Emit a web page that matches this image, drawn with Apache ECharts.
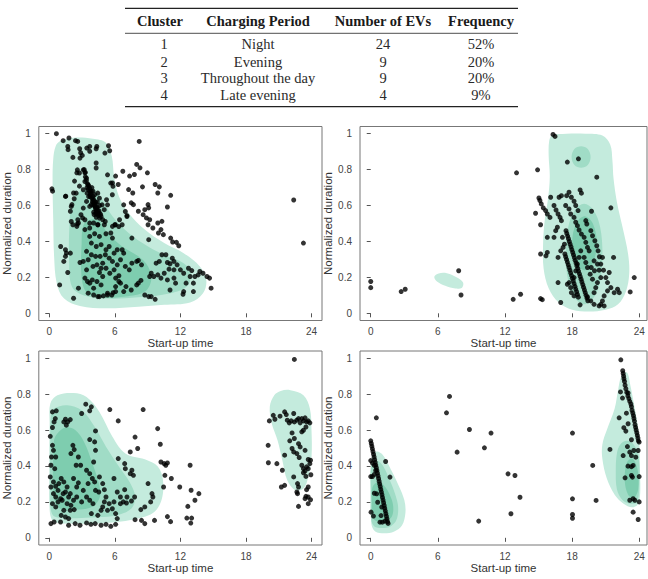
<!DOCTYPE html>
<html><head><meta charset="utf-8">
<script src="https://cdn.jsdelivr.net/npm/echarts@6/dist/echarts.min.js"></script>
<style>html,body{margin:0;padding:0;background:#fff}#c{width:648px;height:579px}</style>
</head><body><div id="c"></div>
<script>
// ---------- table ----------
const tableHeader = ['Cluster', 'Charging Period', 'Number of EVs', 'Frequency'];
const clusterIds = ['1', '2', '3', '4'];
const chargingPeriods = ['Night', 'Evening', 'Throughout the day', 'Late evening'];
const numberOfEVs = ['24', '9', '9', '4'];
const frequencies = ['52%', '20%', '20%', '9%'];

// ---------- axes ----------
const xTicks = [0, 6, 12, 18, 24];
const yTicks = [0, 0.2, 0.4, 0.6, 0.8, 1];
const xName = 'Start-up time';
const yName = 'Normalized duration';

// ---------- panel 1 (Night) ----------
const p1Points = [
[0.65,1.0],[1.27,0.961],[1.80,0.976],[1.69,0.929],[1.72,0.911],[2.40,0.961],[2.60,0.957],[2.78,0.916],[2.87,0.894],[2.16,0.868],[2.81,0.864],[3.02,0.879],[3.43,0.920],[3.70,0.929],[3.70,0.902],[4.29,0.916],[4.35,0.929],[4.29,0.837],[4.29,0.809],[5.42,0.933],[5.53,0.905],[5.09,0.892],[8.23,0.957],
[2.57,0.799],[2.76,0.781],[3.11,0.799],[3.41,0.753],[3.26,0.734],[3.55,0.716],[3.70,0.697],[3.85,0.679],[3.76,0.660],[4.0,0.651],[4.06,0.632],[4.24,0.619],[4.15,0.600],[4.35,0.586],[4.44,0.571],[4.59,0.558],[4.29,0.552],[4.74,0.539],[4.06,0.563],[3.70,0.595],[3.41,0.623],[3.11,0.586],[3.46,0.669],[3.11,0.688],[4.44,0.669],[4.59,0.641],[4.83,0.604],[5.03,0.577],[5.24,0.632],[5.33,0.771],[5.62,0.725],[5.83,0.707],[5.77,0.660],[5.33,0.604],[2.01,0.595],[2.46,0.669],[2.28,0.638],[1.48,0.651],[0.24,0.693],[0.30,0.680],
[2.01,0.511],[2.16,0.493],[2.57,0.497],[2.90,0.549],[3.26,0.521],[3.70,0.502],[4.44,0.493],[5.12,0.511],[6.04,0.493],[6.36,0.483],[6.96,0.567],[6.81,0.604],[7.11,0.539],
[3.3,0.76],[3.4,0.74],[3.5,0.72],[3.6,0.71],[3.55,0.69],[3.7,0.68],[3.8,0.67],[3.75,0.65],[3.9,0.64],[3.95,0.62],[4.05,0.61],[4.1,0.60],[4.2,0.59],[4.25,0.58],[4.3,0.57],[4.35,0.56],[4.45,0.555],[4.5,0.545],[4.6,0.53],[4.2,0.61],[4.0,0.63],[3.85,0.605],[4.4,0.59],[4.55,0.57],[4.7,0.55],[3.6,0.65],[3.45,0.70],[4.1,0.55],[4.3,0.535],[3.2,0.80],[3.3,0.785],[3.9,0.70],[4.0,0.68],[4.15,0.66],[4.4,0.62],[4.6,0.6],
[6.73,0.791],[7.35,0.764],[7.79,0.773],[8.0,0.829],[8.30,0.810],[7.64,0.670],[8.53,0.704],[8.98,0.782],[9.69,0.717],[10.07,0.704],[9.93,0.670],[7.26,0.689],[7.50,0.615],[7.70,0.605],[8.15,0.568],[8.59,0.549],[8.74,0.577],[9.04,0.605],[9.10,0.587],[8.89,0.531],[9.19,0.521],[9.04,0.493],[9.48,0.475],[9.93,0.503],[10.31,0.512],[10.22,0.466],[10.44,0.438],[10.81,0.592],[11.11,0.657],[6.07,0.764],[6.31,0.717],[5.78,0.726],[6.43,0.521],[6.67,0.493],[5.78,0.484],[6.01,0.493],[7.11,0.544],[7.56,0.419],[9.10,0.410],[9.99,0.447],[11.11,0.419],[11.29,0.397],[11.64,0.395],[11.85,0.376],
[10.31,0.326],[10.67,0.326],[10.07,0.289],[9.78,0.279],[10.81,0.283],[11.05,0.276],[11.26,0.307],[11.41,0.289],[11.70,0.270],[12.0,0.242],[11.41,0.242],[10.96,0.246],[10.52,0.223],[10.22,0.196],[10.81,0.186],[11.41,0.196],[11.56,0.168],[11.05,0.130],[12.30,0.223],[12.74,0.251],[13.04,0.238],[13.33,0.205],[13.63,0.214],[13.78,0.233],[12.89,0.205],[12.52,0.168],[13.19,0.168],[12.30,0.121],[12.24,0.106],[13.19,0.121],[14.43,0.205],[14.67,0.196],[14.81,0.140],[14.07,0.223],[22.37,0.631],[23.26,0.391],
[1.04,0.372],[1.48,0.354],[1.57,0.335],[1.48,0.317],[1.33,0.289],[1.69,0.227],[0.95,0.158],[2.22,0.084],[1.93,0.335],[2.67,0.140],[2.81,0.283],[3.11,0.289],[3.56,0.298],[3.41,0.242],[3.26,0.196],[3.50,0.177],[3.70,0.168],[3.94,0.186],[3.56,0.112],[4.06,0.102],[4.59,0.093],[4.44,0.093],[4.95,0.097],[5.33,0.102],[5.72,0.102],[5.84,0.115],[5.33,0.112],[4.06,0.140],[4.36,0.177],[4.74,0.158],[4.89,0.205],[4.59,0.227],[5.19,0.251],[5.54,0.223],[5.93,0.242],[6.07,0.196],[6.37,0.209],[6.37,0.177],[6.52,0.168],[6.07,0.149],[6.07,0.121],[6.81,0.121],[7.02,0.149],[7.50,0.130],[8.0,0.158],[8.15,0.168],[8.39,0.183],[8.0,0.289],[8.44,0.270],[8.15,0.294],[8.74,0.102],[9.10,0.093],[9.33,0.093],[9.69,0.078],[9.19,0.205],[9.57,0.205],[9.33,0.223],[9.93,0.214],
[3.70,0.428],[4.15,0.443],[4.59,0.428],[5.19,0.443],[5.63,0.447],[5.78,0.419],[3.85,0.391],[4.30,0.372],[4.74,0.382],[5.19,0.354],[5.48,0.372],[5.93,0.335],[6.22,0.354],[6.67,0.354],[6.81,0.335],[3.41,0.345],[3.85,0.326],[4.24,0.317],[4.65,0.317],[5.13,0.326],[5.48,0.307],[5.78,0.289],[6.22,0.270],[6.52,0.298],[6.96,0.261],[7.32,0.242],[7.56,0.279],[4.0,0.261],[4.36,0.270],[4.89,0.279],[4.74,0.251],
[2.67,0.503],[2.61,0.521],[3.05,0.531],[2.52,0.484],[3.70,0.475],[3.26,0.466],[4.06,0.503],[4.44,0.493],[4.89,0.521],[5.04,0.493],[1.93,0.568],[2.07,0.605],[2.22,0.670],[1.51,0.652],[2.52,0.782],[2.31,0.736],[2.76,0.708],[3.26,0.782]
];
const p1Outer = [[1.04,0.96],[2.22,0.978],[4.0,0.972],[5.19,0.95],[5.72,0.875],[5.93,0.763],[6.37,0.652],[7.26,0.559],[8.74,0.466],[10.52,0.391],[12.3,0.335],[13.78,0.261],[14.37,0.186],[14.07,0.112],[12.89,0.06],[10.52,0.047],[8.15,0.037],[5.19,0.028],[2.81,0.041],[1.33,0.084],[0.68,0.168],[0.44,0.317],[0.36,0.521],[0.30,0.726],[0.36,0.857],[0.59,0.931]];
const p1Mid = [[2.81,0.68],[4.0,0.689],[4.74,0.642],[5.78,0.54],[7.26,0.447],[9.04,0.372],[10.81,0.317],[12.3,0.279],[12.95,0.223],[12.59,0.149],[11.11,0.112],[8.15,0.089],[5.19,0.082],[3.11,0.101],[2.07,0.149],[1.81,0.298],[1.87,0.521],[2.10,0.624]];
const p1Inner = [[3.41,0.512],[4.44,0.521],[5.33,0.447],[6.67,0.372],[8.15,0.317],[9.04,0.261],[9.33,0.186],[8.74,0.121],[6.96,0.093],[4.59,0.089],[3.35,0.121],[2.93,0.223],[2.96,0.391],[3.05,0.475]];

// ---------- panel 2 (Evening) ----------
const p2Points = [
[0,0.177],[0,0.143],[2.72,0.121],[3.08,0.134],[7.86,0.237],[8.07,0.102],[12.73,0.078],[13.39,0.106],[13.03,0.782],[14.91,0.799],[14.73,0.557],[15.18,0.493],[15.18,0.330],[15.18,0.082],[15.33,0.076],[16.29,0.996],[16.47,0.985],[17.57,0.842],[18.56,0.860],[20.20,0.758],[21.46,0.587],[21.70,0.311],[23.55,0.199],[23.19,0.119],[16.98,0.060],[15.78,0.339],[15.66,0.320],[16.74,0.171],[15.78,0.423],
[15.03,0.642],[15.12,0.628],[15.24,0.609],[15.42,0.587],[15.63,0.572],[15.78,0.553],[16.02,0.534],[16.08,0.646],[16.38,0.600],[16.56,0.575],[16.74,0.553],[16.92,0.534],[17.04,0.516],[16.83,0.646],[17.04,0.655],[17.51,0.655],[17.72,0.674],[17.93,0.646],[18.17,0.624],[18.32,0.600],[18.53,0.572],[18.71,0.687],[18.83,0.669],[17.42,0.600],[17.72,0.581],[17.87,0.553],[18.17,0.534],[18.32,0.507],[18.47,0.488],[18.62,0.464],[18.83,0.441],[19.07,0.423],[19.22,0.395],[19.37,0.367],[19.52,0.348],[19.73,0.568],[19.22,0.516],[19.31,0.497],[19.67,0.460],[19.82,0.432],[20.03,0.404],[20.20,0.376],[20.32,0.348],[20.44,0.315],[20.71,0.311],[20.56,0.274],[20.80,0.240],[21.01,0.199],[21.16,0.171],[21.31,0.227],[21.46,0.143],[21.76,0.115],[22.06,0.134],[22.21,0.115],[21.16,0.125],[20.86,0.097],[20.71,0.069],[20.56,0.050],[20.41,0.041],[20.86,0.041],[19.96,0.050],[19.67,0.069],[19.37,0.091],[19.96,0.115],[20.11,0.143],[20.26,0.171],[19.82,0.190],[19.61,0.218],[19.37,0.255],[19.22,0.283],[19.07,0.311],[18.77,0.348],[18.62,0.311],[18.47,0.274],[18.32,0.236],[18.17,0.199],[17.57,0.162],[17.72,0.171],[17.87,0.143],[17.93,0.115],[18.17,0.097],[18.71,0.047],[17.19,0.367],[17.31,0.385],[16.98,0.348],[16.74,0.311],[16.38,0.423],[16.53,0.460],[16.68,0.479],[17.13,0.423],[19.96,0.292],[20.26,0.274],[20.41,0.240],[20.56,0.199],[19.99,0.237],[19.70,0.255],
[17.45,0.46],[17.52,0.445],[17.6,0.43],[17.67,0.415],[17.75,0.40],[17.82,0.385],[17.9,0.37],[17.97,0.355],[18.05,0.34],[18.12,0.325],[18.2,0.31],[18.27,0.295],[18.35,0.28],[18.42,0.265],[18.5,0.25],[18.57,0.235],[18.65,0.22],[18.72,0.205],[18.8,0.19],[18.87,0.175],[18.95,0.16],[19.02,0.145],[19.1,0.13],[19.17,0.115],[19.25,0.10],[19.32,0.085],[19.4,0.07],
[17.35,0.33],[17.42,0.315],[17.5,0.30],[17.57,0.285],[17.65,0.27],[17.72,0.255],[17.8,0.24],[17.87,0.225],[17.95,0.21],[18.02,0.195],[18.1,0.18],[18.17,0.165],[18.25,0.15],[18.32,0.135],[18.4,0.12],[18.47,0.105],[18.55,0.09]
];
const p2Outer = [[16.2,0.99],[17.5,1.0],[19.2,1.0],[20.7,0.99],[21.4,0.94],[21.6,0.85],[21.7,0.75],[22.0,0.62],[22.5,0.48],[23.0,0.33],[23.1,0.22],[22.8,0.12],[22.1,0.05],[21.0,0.02],[19.5,0.01],[18.0,0.02],[16.8,0.06],[15.9,0.14],[15.45,0.25],[15.4,0.38],[15.55,0.52],[15.85,0.64],[16.0,0.76],[15.9,0.88],[15.95,0.96]];
const p2Blob = [[5.68,0.203],[6.07,0.222],[6.81,0.223],[7.71,0.199],[8.25,0.171],[8.16,0.143],[7.56,0.138],[6.66,0.153],[5.92,0.177]];
const p2Mid = [[19.07,0.61],[19.9,0.575],[20.5,0.48],[20.71,0.33],[20.5,0.18],[19.9,0.085],[19.07,0.05],[18.25,0.085],[17.65,0.18],[17.43,0.33],[17.65,0.48],[18.25,0.575]];
const p2Top = [[18.8,0.93],[19.4,0.915],[19.65,0.87],[19.4,0.825],[18.8,0.81],[18.2,0.825],[17.95,0.87],[18.2,0.915]];
const p2Inner = [[19.1,0.54],[19.85,0.5],[20.2,0.39],[19.85,0.28],[19.1,0.24],[18.35,0.28],[18.0,0.39],[18.35,0.5]];

// ---------- panel 3 (Throughout the day) ----------
const p3Points = [
[0.09,0.565],[0.29,0.701],[0.64,0.707],[0.44,0.645],[0.29,0.614],[0.55,0.664],[0.29,0.515],[0.38,0.487],[0.20,0.450],[0.59,0.450],[0.15,0.404],[0.50,0.385],[0.09,0.339],[0.38,0.311],[0.15,0.283],[0.59,0.287],[0.80,0.264],[0.38,0.246],[0.59,0.227],[0.29,0.190],[0.59,0.172],[0.80,0.200],[1.04,0.218],[1.27,0.246],[0.87,0.302],[1.09,0.330],[1.33,0.311],[1.63,0.283],[1.48,0.255],[1.77,0.227],[1.63,0.190],[1.98,0.181],[1.92,0.153],[2.28,0.157],[1.33,0.153],[1.09,0.125],[1.48,0.116],[1.77,0.107],[0.15,0.079],[0.44,0.088],[1.03,0.088],[1.77,0.070],[2.37,0.079],[2.81,0.070],[3.41,0.083],[3.81,0.075],[4.20,0.079],[4.74,0.070],[5.19,0.075],[5.63,0.064],[6.07,0.075],
[1.48,0.660],[1.69,0.645],[1.92,0.658],[1.33,0.645],[1.56,0.627],[3.34,0.744],[3.85,0.729],[3.70,0.707],[2.96,0.692],[5.54,0.714],[6.31,0.651],[2.16,0.515],[2.28,0.491],[1.98,0.469],[2.66,0.450],[2.87,0.404],[2.46,0.404],[3.70,0.547],[4.15,0.534],[4.23,0.595],[4.23,0.487],[4.06,0.422],[3.41,0.376],[3.70,0.357],[3.94,0.330],[4.15,0.311],[4.59,0.339],[4.89,0.302],[5.04,0.268],[5.19,0.227],[5.04,0.200],[4.89,0.172],[5.33,0.153],[5.48,0.190],[5.77,0.162],[6.07,0.135],[6.22,0.107],[3.55,0.302],[3.11,0.264],[3.41,0.227],[3.70,0.209],[4.0,0.190],[4.23,0.264],[4.53,0.255],[2.96,0.200],[2.51,0.227],[2.66,0.306],[2.22,0.330],[2.51,0.283],[1.92,0.246],[1.18,0.209],[2.22,0.209],[3.85,0.135],[4.44,0.125],[4.74,0.153],
[5.92,0.330],[6.31,0.441],[6.96,0.385],[6.90,0.413],[7.56,0.376],[7.70,0.348],[7.41,0.357],[7.85,0.561],[7.41,0.478],[8.09,0.497],[8.59,0.714],[5.92,0.200],[6.51,0.190],[6.77,0.200],[7.06,0.194],[6.22,0.255],[6.51,0.227],[6.90,0.268],[7.52,0.205],[7.11,0.227],[7.81,0.227],[8.74,0.172],[8.38,0.157],[9.04,0.302],[9.40,0.246],[9.48,0.227],[9.28,0.200],[9.63,0.097],[7.85,0.101],[8.44,0.097],[8.74,0.079],[9.92,0.608],[10.16,0.521],[10.22,0.422],[10.51,0.413],[10.66,0.404],[10.81,0.417],[10.58,0.348],[10.46,0.283],[11.17,0.330],[11.94,0.283],[10.81,0.118],[11.10,0.090],
[12.89,0.404],[12.98,0.265],[13.33,0.209],[13.69,0.246],[12.68,0.175],[12.59,0.110],[13.03,0.110],[12.95,0.082],
[22.43,0.993],[20.14,0.651],[20.50,0.682],[20.65,0.660],[21.12,0.677],[21.54,0.701],[21.69,0.686],[21.78,0.655],[21.96,0.640],[22.14,0.651],[22.37,0.692],[22.43,0.645],[22.66,0.655],[22.81,0.664],[22.96,0.640],[23.11,0.664],[23.26,0.651],[23.41,0.668],[23.55,0.645],[23.70,0.651],[23.85,0.640],[23.49,0.617],[23.26,0.599],[23.11,0.590],[22.22,0.584],[22.43,0.553],[22.01,0.540],[22.81,0.524],[22.96,0.506],[23.41,0.487],[22.22,0.497],[22.37,0.478],[22.66,0.469],[21.54,0.460],[22.87,0.447],[23.70,0.436],[23.91,0.432],[23.85,0.413],[23.11,0.404],[23.26,0.385],[23.41,0.372],[23.55,0.395],[23.70,0.385],[23.94,0.351],[23.26,0.362],[23.49,0.342],[22.37,0.339],[22.72,0.302],[22.81,0.283],[22.66,0.255],[22.72,0.246],[23.70,0.283],[23.55,0.268],[23.49,0.231],[23.70,0.227],[23.41,0.218],[23.91,0.212],[23.70,0.190],[22.81,0.175],[20.03,0.515],[20.05,0.418],[20.83,0.413],[21.33,0.376],[21.24,0.283],[21.54,0.292]
];
const p3OuterL = [[0.09,0.747],[0.74,0.793],[2.22,0.806],[3.41,0.784],[4.59,0.701],[5.78,0.563],[6.96,0.47],[8.74,0.437],[9.93,0.397],[10.4,0.323],[10.28,0.212],[9.48,0.138],[7.56,0.101],[5.19,0.083],[2.22,0.079],[0.44,0.09],[0.06,0.138],[0.0,0.36],[0.03,0.637]];
const p3MidL = [[0.44,0.72],[1.63,0.738],[2.96,0.71],[4.15,0.618],[5.19,0.507],[6.37,0.397],[7.41,0.304],[7.85,0.231],[7.56,0.166],[6.37,0.129],[4.3,0.114],[1.63,0.111],[0.3,0.129],[0.09,0.268],[0.09,0.544],[0.15,0.683]];
const p3InnerL = [[0.74,0.581],[1.48,0.614],[2.37,0.6],[3.17,0.535],[3.94,0.415],[4.53,0.304],[4.65,0.231],[4.0,0.175],[2.52,0.157],[0.89,0.166],[0.39,0.249],[0.36,0.452],[0.44,0.544]];
const p3OuterR = [[22.07,0.822],[23.26,0.794],[23.85,0.72],[24.0,0.599],[24.0,0.45],[23.7,0.339],[23.26,0.274],[22.52,0.265],[21.78,0.32],[21.33,0.432],[20.89,0.543],[20.36,0.636],[20.18,0.729],[20.59,0.794],[21.18,0.818]];

// ---------- panel 4 (Late evening) ----------
const p4Points = [
[6.77,0.696],[7.04,0.787],[7.72,0.477],[8.82,0.603],[10.75,0.583],[10.16,0.501],[9.65,0.093],[12.27,0.356],[12.89,0.347],[13.34,0.226],[12.53,0.134],[18.03,0.583],[18.03,0.217],[18.03,0.130],[18.03,0.109],[19.84,0.403],[20.14,0.208],[21.38,0.492],
[0.0,0.54],[0.05,0.525],[0.1,0.51],[0.15,0.495],[0.2,0.48],[0.25,0.465],[0.3,0.45],[0.35,0.435],[0.4,0.42],[0.45,0.405],[0.5,0.39],[0.55,0.375],[0.6,0.36],[0.65,0.345],[0.7,0.33],[0.75,0.315],[0.8,0.30],[0.85,0.285],[0.9,0.27],[0.95,0.255],[1.0,0.24],[1.05,0.225],[1.1,0.21],[1.15,0.195],[1.2,0.18],[1.25,0.165],[1.3,0.15],[1.35,0.135],[1.4,0.12],[1.45,0.105],[1.5,0.09],[1.55,0.08],
[0.5,0.668],[0.0,0.43],[0.15,0.416],[0.32,0.403],[0.0,0.341],[0.15,0.341],[1.33,0.425],[1.72,0.338],[0.32,0.248],[0.53,0.245],[0.62,0.198],[0.98,0.171],[0.03,0.143],[0.24,0.121],[0.92,0.124],[0.83,0.087],[1.04,0.087],[1.27,0.093],[0.32,0.353],[0.44,0.375],
[22.35,0.991],[22.52,0.93],[22.56,0.915],[22.6,0.90],[22.63,0.885],[22.68,0.87],[22.73,0.85],[22.8,0.83],[22.88,0.81],[22.98,0.79],[23.07,0.775],[23.15,0.76],[23.25,0.745],[23.3,0.73],[23.35,0.71],[23.42,0.695],[23.48,0.68],[23.52,0.665],[23.57,0.65],[23.62,0.63],[23.67,0.615],[23.72,0.60],[23.78,0.585],[23.83,0.57],[23.88,0.555],[23.92,0.54],
[22.32,0.812],[22.50,0.778],[23.00,0.806],[22.85,0.694],[22.20,0.668],[23.00,0.635],[22.62,0.613],[22.80,0.594],[23.30,0.546],[23.99,0.533],[22.94,0.508],[23.15,0.477],[23.51,0.486],[23.90,0.486],[23.69,0.449],[23.30,0.458],[22.99,0.399],[23.30,0.396],[23.45,0.403],[23.30,0.347],[23.39,0.338],[23.99,0.341],[23.15,0.209],[23.45,0.218],[23.60,0.209],[23.99,0.200],[23.45,0.143],[23.90,0.102],[22.73,0.334],[22.56,0.458]
];
const p4OuterL = [[0.05,0.44],[0.5,0.48],[1.1,0.46],[1.8,0.38],[2.5,0.29],[3.0,0.21],[3.1,0.14],[2.8,0.07],[2.1,0.035],[1.2,0.025],[0.4,0.035],[0.05,0.08],[0.0,0.25]];
const p4MidL = [[0.05,0.40],[0.5,0.43],[1.1,0.40],[1.7,0.32],[2.2,0.24],[2.45,0.17],[2.3,0.10],[1.8,0.065],[1.0,0.055],[0.3,0.065],[0.05,0.10],[0.0,0.25]];
const p4InnerL = [[0.15,0.28],[0.6,0.31],[1.2,0.29],[1.7,0.24],[2.0,0.18],[1.9,0.12],[1.4,0.095],[0.7,0.09],[0.2,0.11],[0.1,0.2]];
const p4OuterR = [[22.4,0.90],[22.9,0.92],[23.2,0.85],[23.6,0.72],[23.95,0.58],[24.05,0.40],[24.0,0.20],[23.4,0.17],[22.6,0.19],[21.8,0.24],[21.1,0.33],[20.7,0.44],[20.7,0.52],[21.1,0.60],[21.8,0.72],[22.1,0.82]];
const p4MidR = [[22.3,0.52],[22.9,0.54],[23.5,0.52],[23.95,0.45],[24.0,0.30],[23.8,0.20],[23.2,0.19],[22.5,0.21],[22.0,0.27],[21.9,0.38],[22.0,0.47]];
const p4InnerR = [[22.9,0.42],[23.4,0.44],[23.85,0.38],[23.9,0.27],[23.5,0.22],[23.0,0.24],[22.7,0.32]];

// ---------- build ----------
const C_OUT = '#c4ebdd', C_MID = '#a0dcc6', C_IN = '#7ecdaf';
const chart = echarts.init(document.getElementById('c'), null, {renderer: 'svg'});

const grids = [
  {left: 31, top: 126.5, width: 291, height: 194, xmax: 24.96},
  {left: 360, top: 126.5, width: 287, height: 194, xmax: 24.69},
  {left: 31, top: 351, width: 291, height: 194, xmax: 24.96},
  {left: 360, top: 351, width: 287, height: 194, xmax: 24.69}
];
const sansFont = '"Liberation Sans", Arial, sans-serif';

const xAxes = grids.map((g, i) => ({
  gridIndex: i, type: 'value', min: -0.96, max: g.xmax,
  axisLine: {show: false}, splitLine: {show: false},
  axisTick: {show: true, length: 4, customValues: xTicks, lineStyle: {color: '#555'}},
  axisLabel: {customValues: xTicks, margin: 6, fontSize: 10, color: '#444', fontFamily: sansFont},
  name: xName, nameLocation: 'middle', nameGap: 15,
  nameTextStyle: {fontSize: 11.5, color: '#333', fontFamily: sansFont}
}));
const yAxes = grids.map((g, i) => ({
  gridIndex: i, type: 'value', min: -0.04, max: 1.04,
  axisLine: {show: false}, splitLine: {show: false},
  axisTick: {show: true, length: 4, customValues: yTicks, lineStyle: {color: '#555'}},
  axisLabel: {customValues: yTicks, margin: 8, fontSize: 10, color: '#444', fontFamily: sansFont},
  name: yName, nameLocation: 'middle', nameGap: 22, nameRotate: 90,
  nameTextStyle: {fontSize: 11.5, color: '#333', fontFamily: sansFont}
}));

function poly(idx, verts, color) {
  return {
    type: 'custom', xAxisIndex: idx, yAxisIndex: idx, data: verts, silent: true, clip: true,
    renderItem: function (params, api) {
      if (params.dataIndex !== 0) return null;
      const pts = verts.map(v => api.coord(v));
      return {type: 'polygon', shape: {points: pts, smooth: 0.35}, style: {fill: color}};
    }
  };
}
function pts(idx, data) {
  return {type: 'scatter', xAxisIndex: idx, yAxisIndex: idx, data: data, symbolSize: 5, z: 5,
    itemStyle: {color: '#000'}, silent: true};
}

const series = [
  poly(0, p1Outer, C_OUT), poly(0, p1Mid, C_MID), poly(0, p1Inner, C_IN), pts(0, p1Points),
  poly(1, p2Outer, C_OUT), poly(1, p2Blob, C_OUT), poly(1, p2Mid, C_MID), poly(1, p2Top, C_MID), poly(1, p2Inner, C_IN), pts(1, p2Points),
  poly(2, p3OuterL, C_OUT), poly(2, p3MidL, C_MID), poly(2, p3InnerL, C_IN), poly(2, p3OuterR, C_OUT), pts(2, p3Points),
  poly(3, p4OuterL, C_OUT), poly(3, p4MidL, C_MID), poly(3, p4InnerL, C_IN), poly(3, p4OuterR, C_OUT), poly(3, p4MidR, C_MID), poly(3, p4InnerR, C_IN), pts(3, p4Points)
];

// table graphic
const serif = '"Liberation Serif", "Times New Roman", serif';
const colX = [160, 258, 383, 481];
const rowY = [44, 61.5, 78, 94.5];
const gfx = [];
function txt(t, x, y, bold) {
  gfx.push({type: 'text', silent: true, style: {text: t, x: x, y: y, align: 'center', verticalAlign: 'middle',
    textAlign: 'center', textVerticalAlign: 'middle',
    font: (bold ? 'bold ' : '') + '14.5px ' + serif, fill: bold ? '#1a1a1a' : '#2a2a2a'}});
}
function rule(y, w) {
  gfx.push({type: 'line', silent: true, shape: {x1: 125, y1: y, x2: 518, y2: y}, style: {stroke: '#222', lineWidth: w}});
}
rule(8.3, 1.3); rule(33.3, 0.8); rule(106.7, 1.3);
tableHeader.forEach((h, i) => txt(h, colX[i], 21, true));
const cols = [clusterIds, chargingPeriods, numberOfEVs, frequencies];
cols.forEach((col, ci) => col.forEach((v, ri) => txt(v, ci === 0 ? 164 : colX[ci], rowY[ri], false)));

chart.setOption({
  animation: false,
  grid: grids.map(g => ({left: g.left, top: g.top, width: g.width, height: g.height, show: true,
    borderColor: '#777', borderWidth: 1, backgroundColor: 'transparent', containLabel: false})),
  xAxis: xAxes, yAxis: yAxes, series: series, graphic: gfx
});
</script></body></html>
